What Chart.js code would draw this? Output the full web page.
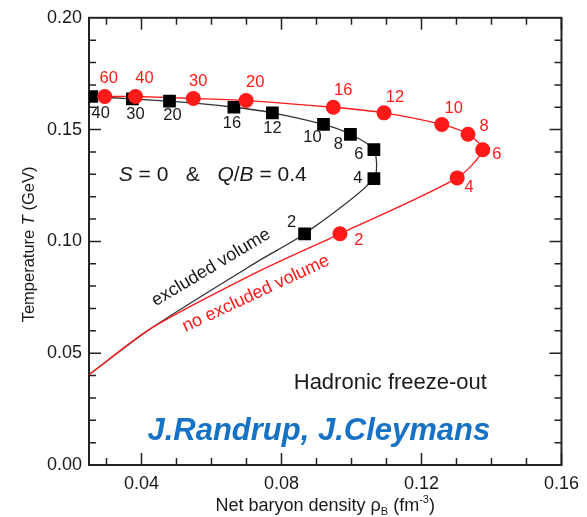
<!DOCTYPE html>
<html>
<head>
<meta charset="utf-8">
<script src="https://cdn.jsdelivr.net/npm/chart.js@4.4.1/dist/chart.umd.min.js"></script>
<style>
	html, body { margin: 0; padding: 0; background: #fff; }
	#wrap { width: 587px; height: 517px; }
</style>
</head>
<body>
<div id="wrap"><canvas id="freezeChart"></canvas></div>
<script>
// no excluded volume (red circles), label = beam energy
const redLabels = ["60", "40", "30", "20", "16", "12", "10", "8", "6", "4", "2"];
const redX = [0.0295, 0.0383, 0.0548, 0.0699, 0.0948, 0.1093, 0.1258, 0.1333, 0.1375, 0.1302, 0.0967];
const redY = [0.1648, 0.1648, 0.1639, 0.1630, 0.1600, 0.1575, 0.1523, 0.1479, 0.1410, 0.1284, 0.1034];
// unmarked parts of the red curve (left of 60, below 2)
const redHeadX = [0.025];
const redHeadY = [0.1649];
const redTailX = [0.0736, 0.0425, 0.025];
const redTailY = [0.0867, 0.0609, 0.0404];

// excluded volume (black squares)
const blackLabels = ["40", "30", "20", "16", "12", "10", "8", "6", "4", "2"];
const blackX = [0.0258, 0.0374, 0.0480, 0.0664, 0.0774, 0.0920, 0.0997, 0.1064, 0.1064, 0.0866];
const blackY = [0.1648, 0.1637, 0.1627, 0.1600, 0.1575, 0.1523, 0.1479, 0.1410, 0.1281, 0.1034];
const blackTailX = [0.0736, 0.0434, 0.025];
const blackTailY = [0.0914, 0.0618, 0.0404];

// axis ranges and labelled ticks
const xMin = 0.025, xMax = 0.16;
const yMin = 0, yMax = 0.20;
const xTickLabels = [0.04, 0.08, 0.12, 0.16];
const yTickLabels = [0.00, 0.05, 0.10, 0.15, 0.20];

// where the number sits next to its marker (px)
const redLabelOffset = [[4, -18], [9, -18], [5, -17], [9, -18], [10, -17], [11, -15], [12, -16], [16, -8], [14, 5], [12, 10], [19, 7]];
const blackLabelOffset = [[9, 17], [3, 15], [3, 14], [-2, 16], [0, 16], [-11, 13], [-12, 10], [-15, 5], [-16, 0], [-13, -11]];

const FONT = '"Liberation Sans", Arial, Helvetica, sans-serif';
const RED = "#ff1a1a";
const INK = "#1a1a1a";

function toPoints(xs, ys) {
	return xs.map((x, i) => ({ x: x, y: ys[i] }));
}

// draw text made of several pieces (italic, sub/superscript)
function drawRich(ctx, parts, x, y, align) {
	let total = 0;
	parts.forEach((p) => {
		ctx.font = p.font;
		p.w = ctx.measureText(p.t).width;
		total += p.w;
	});
	let cx = align === "center" ? x - total / 2 : x;
	ctx.textAlign = "left";
	ctx.textBaseline = "alphabetic";
	parts.forEach((p) => {
		ctx.font = p.font;
		ctx.fillText(p.t, cx, y + (p.dy || 0));
		cx += p.w;
	});
}

const framePlugin = {
	id: "frame",
	beforeDatasetsDraw(chart) {
		const { ctx, chartArea } = chart;
		const xs = chart.scales.x;
		const ys = chart.scales.y;
		const { left, right, top, bottom } = chartArea;
		ctx.save();
		ctx.strokeStyle = "#222";
		ctx.lineWidth = 1.5;
		// ticks on all four sides, pointing inward
		for (let i = 3; i <= 16; i++) {
			const px = xs.getPixelForValue(i / 100);
			const len = i % 4 === 0 ? 12 : 7;
			ctx.beginPath();
			ctx.moveTo(px, bottom);
			ctx.lineTo(px, bottom - len);
			ctx.moveTo(px, top);
			ctx.lineTo(px, top + len);
			ctx.stroke();
		}
		for (let i = 1; i < 20; i++) {
			const py = ys.getPixelForValue(i / 100);
			const len = i % 5 === 0 ? 12 : 7;
			ctx.beginPath();
			ctx.moveTo(left, py);
			ctx.lineTo(left + len, py);
			ctx.moveTo(right, py);
			ctx.lineTo(right - len, py);
			ctx.stroke();
		}
		ctx.lineWidth = 2;
		ctx.strokeRect(left, top, right - left, bottom - top);
		ctx.restore();
	},
	afterDatasetsDraw(chart) {
		const { ctx } = chart;
		const xs = chart.scales.x;
		const ys = chart.scales.y;
		ctx.save();

		// point numbers
		ctx.font = "16.5px " + FONT;
		ctx.textAlign = "center";
		ctx.textBaseline = "middle";
		ctx.fillStyle = INK;
		blackLabels.forEach((t, i) => {
			ctx.fillText(t, xs.getPixelForValue(blackX[i]) + blackLabelOffset[i][0], ys.getPixelForValue(blackY[i]) + blackLabelOffset[i][1]);
		});
		ctx.fillStyle = RED;
		redLabels.forEach((t, i) => {
			ctx.fillText(t, xs.getPixelForValue(redX[i]) + redLabelOffset[i][0], ys.getPixelForValue(redY[i]) + redLabelOffset[i][1]);
		});

		// S = 0 & Q/B = 0.4
		ctx.fillStyle = INK;
		const f = "21px " + FONT;
		const fi = "italic 21px " + FONT;
		drawRich(ctx, [
			{ t: "S", font: fi },
			{ t: " = 0   &   ", font: f },
			{ t: "Q", font: fi },
			{ t: "/", font: f },
			{ t: "B", font: fi },
			{ t: " = 0.4", font: f },
		], xs.getPixelForValue(0.0335), ys.getPixelForValue(0.1271), "left");

		// curve names along the lines
		ctx.font = "18px " + FONT;
		ctx.textAlign = "center";
		ctx.textBaseline = "alphabetic";
		ctx.save();
		ctx.translate(xs.getPixelForValue(0.0606), ys.getPixelForValue(0.0864));
		ctx.rotate(-31 * Math.PI / 180);
		ctx.fillStyle = INK;
		ctx.fillText("excluded volume", 0, 0);
		ctx.restore();
		ctx.save();
		ctx.translate(xs.getPixelForValue(0.0733), ys.getPixelForValue(0.0746));
		ctx.rotate(-25 * Math.PI / 180);
		ctx.fillStyle = RED;
		ctx.fillText("no excluded volume", 0, 0);
		ctx.restore();

		// Hadronic freeze-out
		ctx.fillStyle = INK;
		ctx.textAlign = "left";
		ctx.font = "22px " + FONT;
		ctx.fillText("Hadronic freeze-out", xs.getPixelForValue(0.0835), ys.getPixelForValue(0.0342));

		// authors
		ctx.fillStyle = "#1672c4";
		ctx.font = "italic bold 31px " + FONT;
		ctx.fillText("J.Randrup, J.Cleymans", xs.getPixelForValue(0.0417), ys.getPixelForValue(0.0111));

		ctx.restore();
	},
	afterDraw(chart) {
		const { ctx, chartArea } = chart;
		ctx.save();
		ctx.fillStyle = INK;
		// x axis title
		const cx = (chartArea.left + chartArea.right) / 2;
		drawRich(ctx, [
			{ t: "Net baryon density \u03c1", font: "18px " + FONT },
			{ t: "B", font: "11px " + FONT, dy: 4 },
			{ t: " (fm", font: "18px " + FONT },
			{ t: "-3", font: "11px " + FONT, dy: -8 },
			{ t: ")", font: "18px " + FONT },
		], cx, 511, "center");
		// y axis title
		ctx.translate(34, (chartArea.top + chartArea.bottom) / 2 + 3);
		ctx.rotate(-Math.PI / 2);
		drawRich(ctx, [
			{ t: "Temperature ", font: "16.5px " + FONT },
			{ t: "T", font: "italic 16.5px " + FONT },
			{ t: " (GeV)", font: "16.5px " + FONT },
		], 0, 0, "center");
		ctx.restore();
	},
};

const ctx = document.getElementById("freezeChart");
new Chart(ctx, {
	type: "scatter",
	data: {
		datasets: [
			{
				label: "no excluded volume",
				data: toPoints(redX, redY),
				pointStyle: "circle",
				pointRadius: 7.5,
				backgroundColor: RED,
				borderWidth: 0,
				showLine: false,
			},
			{
				label: "excluded volume",
				data: toPoints(blackX, blackY),
				pointStyle: "rect",
				pointRadius: 9,
				backgroundColor: "#000",
				borderWidth: 0,
				showLine: false,
			},
			{
				label: "no excluded volume curve",
				data: toPoints(redHeadX.concat(redX, redTailX), redHeadY.concat(redY, redTailY)),
				showLine: true,
				pointRadius: 0,
				borderColor: RED,
				borderWidth: 1.3,
				tension: 0.25,
			},
			{
				label: "excluded volume curve",
				data: toPoints(blackX.concat(blackTailX), blackY.concat(blackTailY)),
				showLine: true,
				pointRadius: 0,
				borderColor: "#333",
				borderWidth: 1.3,
				tension: 0.25,
			},
		],
	},
	options: {
		responsive: true,
		maintainAspectRatio: false,
		animation: false,
		layout: { padding: { top: 15, right: 21, left: 0, bottom: 0 } },
		plugins: { legend: { display: false }, tooltip: { enabled: false } },
		scales: {
			x: {
				type: "linear",
				min: xMin,
				max: xMax,
				grid: { display: false, drawTicks: false },
				border: { display: false },
				ticks: {
					stepSize: 0.01,
					autoSkip: false,
					maxRotation: 0,
					minRotation: 0,
					padding: 8,
					color: INK,
					font: { family: FONT, size: 18 },
					callback: (v) => (xTickLabels.some((t) => Math.abs(t - v) < 1e-6) ? v.toFixed(2) : ""),
				},
				afterFit: (s) => { s.height = 52; },
			},
			y: {
				min: yMin,
				max: yMax,
				grid: { display: false, drawTicks: false },
				border: { display: false },
				ticks: {
					stepSize: 0.01,
					autoSkip: false,
					padding: 7,
					color: INK,
					font: { family: FONT, size: 18 },
					callback: (v) => (yTickLabels.some((t) => Math.abs(t - v) < 1e-6) ? v.toFixed(2) : ""),
				},
				afterFit: (s) => { s.width = 89; },
			},
		},
	},
	plugins: [framePlugin],
});
</script>
</body>
</html>
